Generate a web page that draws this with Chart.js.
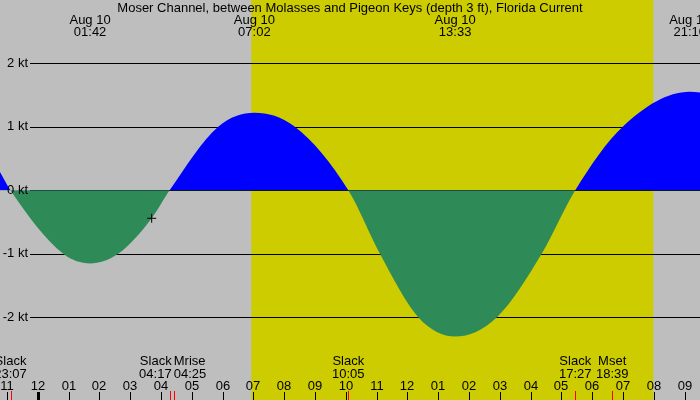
<!DOCTYPE html>
<html>
<head>
<meta charset="utf-8">
<script src="https://cdn.jsdelivr.net/npm/chart.js@4/dist/chart.umd.min.js"></script>
<style>
  html, body { margin:0; padding:0; background:#bebebe; }
  #wrap { width:700px; height:400px; }
</style>
</head>
<body>
<div id="wrap"><canvas id="tide" width="700" height="400"></canvas></div>
<script>
// hours relative to midnight, Aug 10
const TIMES   = [-1.224, -0.883, 0.83, 1.70, 2.61, 3.70, 4.283, 5.86, 7.033, 8.35,
                 10.083, 11.11, 12.36, 13.55, 14.90, 16.36, 17.45, 18.99, 21.167, 21.5];
const CURRENT = [0.29, 0, -1.0, -1.15, -1.0, -0.44, 0, 1.0, 1.22, 1.0,
                 0, -1.0, -2.0, -2.30, -2.0, -1.0, 0, 1.0, 1.55, 1.54];

const Y_TICKS  = [2, 1, 0, -1, -2];
const Y_LABELS = ['2 kt', '1 kt', '0 kt', '-1 kt', '-2 kt'];

const HOUR_TICKS  = [-1,0,1,2,3,4,5,6,7,8,9,10,11,12,13,14,15,16,17,18,19,20,21];
const HOUR_LABELS = ['11','12','01','02','03','04','05','06','07','08','09','10',
                     '11','12','01','02','03','04','05','06','07','08','09'];

const SUNRISE = 6.933, SUNSET = 19.983;

const PEAK_TIMES  = [1.70, 7.033, 13.55, 21.167];
const PEAK_DATES  = ['Aug 10', 'Aug 10', 'Aug 10', 'Aug 10'];
const PEAK_LABELS = ['01:42', '07:02', '13:33', '21:10'];

const EVENT_TIMES  = [-0.883, 4.283, 4.417, 10.083, 17.45, 18.65];
const EVENT_NAMES  = ['Slack', 'Slack', 'Mrise', 'Slack', 'Slack', 'Mset'];
const EVENT_LABELS = ['23:07', '04:17', '04:25', '10:05', '17:27', '18:39'];
const EVENT_ALIGN  = ['center', 'right', 'left', 'center', 'center', 'center'];

const NOW = { x: 3.70, y: -0.44 };

const TITLE = 'Moser Channel, between Molasses and Pigeon Keys (depth 3 ft), Florida Current';
const FONT  = '13px "Liberation Sans", Arial, sans-serif';

const tidePlugin = {
  id: 'tide',
  beforeDatasetsDraw(chart) {
    const { ctx, scales: { x, y }, chartArea: a } = chart;
    ctx.save();
    ctx.fillStyle = '#bebebe';
    ctx.fillRect(0, 0, chart.width, chart.height);
    const x0 = x.getPixelForValue(SUNRISE), x1 = x.getPixelForValue(SUNSET);
    ctx.fillStyle = '#cccc00';
    ctx.fillRect(x0, 0, x1 - x0, chart.height);

    ctx.strokeStyle = '#000';
    ctx.lineWidth = 1;
    Y_TICKS.forEach(v => {
      const py = Math.round(y.getPixelForValue(v)) + 0.5;
      ctx.beginPath(); ctx.moveTo(30, py); ctx.lineTo(a.right, py); ctx.stroke();
    });
    ctx.restore();
  },
  afterDraw(chart) {
    const { ctx, scales: { x, y } } = chart;
    ctx.save();
    ctx.font = FONT;
    ctx.fillStyle = '#000';
    ctx.textBaseline = 'middle';

    ctx.textAlign = 'center';
    ctx.fillText(TITLE, 350, 8);

    PEAK_TIMES.forEach((t, i) => {
      const px = x.getPixelForValue(t);
      ctx.fillText(PEAK_DATES[i], px, 20);
      ctx.fillText(PEAK_LABELS[i], px, 32);
    });

    ctx.textAlign = 'right';
    Y_TICKS.forEach((v, i) => ctx.fillText(Y_LABELS[i], 28, y.getPixelForValue(v)));

    EVENT_TIMES.forEach((t, i) => {
      const px = x.getPixelForValue(t) + (EVENT_ALIGN[i] === 'right' ? 2 : 0);
      ctx.textAlign = EVENT_ALIGN[i];
      ctx.fillText(EVENT_NAMES[i], px, 361);
      ctx.fillText(EVENT_LABELS[i], px, 374);
    });

    ctx.textAlign = 'center';
    HOUR_TICKS.forEach((h, i) => {
      const px = Math.round(x.getPixelForValue(h));
      ctx.fillText(HOUR_LABELS[i], px, 386);
      ctx.fillStyle = '#000';
      if (h === 0) ctx.fillRect(px - 1, 392, 3, 8);
      else ctx.fillRect(px, 392, 1, 8);
    });

    ctx.fillStyle = '#ff0000';
    EVENT_TIMES.forEach(t => {
      const px = Math.round(x.getPixelForValue(t));
      ctx.fillRect(px, 391, 1, 9);
    });
    ctx.restore();
  }
};

new Chart(document.getElementById('tide'), {
  type: 'line',
  data: {
    datasets: [
      {
        data: TIMES.map((t, i) => ({ x: t, y: CURRENT[i] })),
        order: 2,
        borderWidth: 0,
        borderColor: 'rgba(0,0,0,0)',
        pointRadius: 0,
        cubicInterpolationMode: 'monotone',
        fill: { target: 'origin', above: '#0000ff', below: '#2e8b57' }
      },
      {
        data: [NOW],
        order: 1,
        showLine: false,
        pointStyle: 'cross',
        pointRadius: 4.5,
        borderColor: '#000',
        borderWidth: 1,
        clip: false
      }
    ]
  },
  options: {
    responsive: false,
    animation: false,
    devicePixelRatio: 1,
    layout: { padding: 0, autoPadding: false },
    plugins: { legend: { display: false }, tooltip: { enabled: false } },
    scales: {
      x: { type: 'linear', min: -1.224, max: 21.5, display: false },
      y: { min: -3.30, max: 2.995, display: false }
    }
  },
  plugins: [tidePlugin]
});
</script>
</body>
</html>
